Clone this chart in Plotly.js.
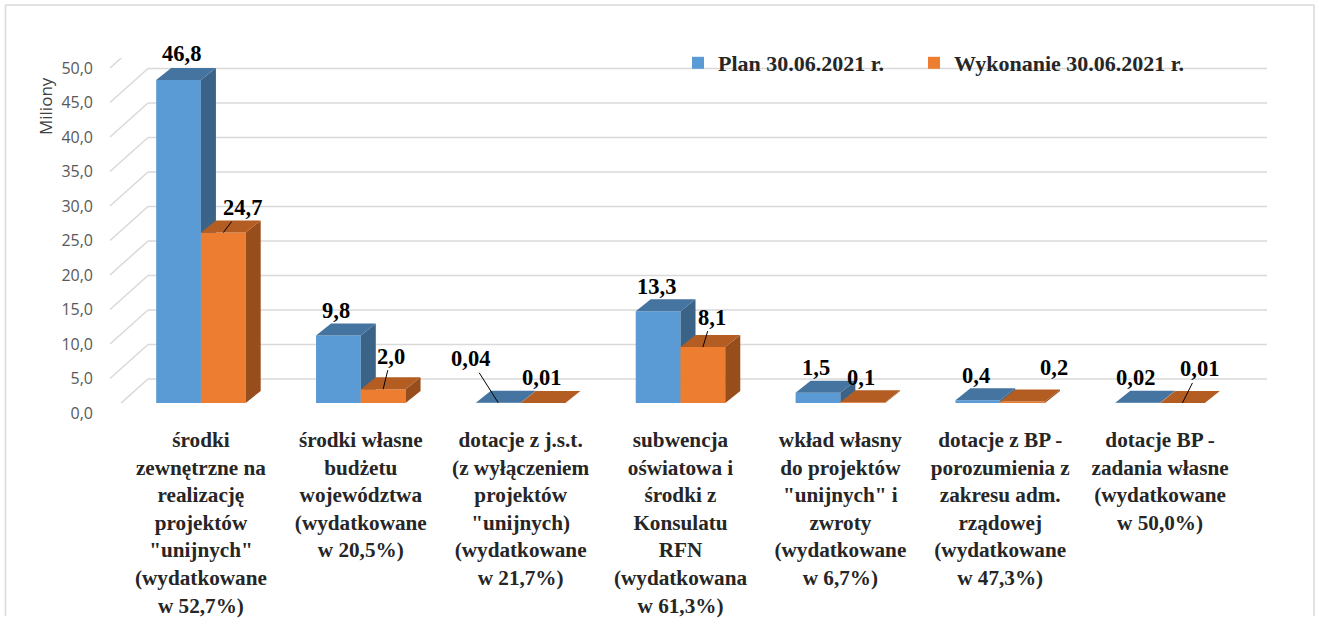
<!DOCTYPE html>
<html><head><meta charset="utf-8">
<script src="https://cdn.plot.ly/plotly-3.0.1.min.js"></script>
<style>html,body{margin:0;padding:0;background:#fff}#chart{width:1319px;height:626px}</style>
</head><body><div id="chart"></div>
<script>
// ---------- data ----------
const categoryLabels = [
  'środki<br>zewnętrzne na<br>realizację<br>projektów<br>"unijnych"<br>(wydatkowane<br>w 52,7%)',
  'środki własne<br>budżetu<br>województwa<br>(wydatkowane<br>w 20,5%)',
  'dotacje z j.s.t.<br>(z wyłączeniem<br>projektów<br>"unijnych)<br>(wydatkowane<br>w 21,7%)',
  'subwencja<br>oświatowa i<br>środki z<br>Konsulatu<br>RFN<br>(wydatkowana<br>w 61,3%)',
  'wkład własny<br>do projektów<br>"unijnych" i<br>zwroty<br>(wydatkowane<br>w 6,7%)',
  'dotacje z BP -<br>porozumienia z<br>zakresu adm.<br>rządowej<br>(wydatkowane<br>w 47,3%)',
  'dotacje BP -<br>zadania własne<br>(wydatkowane<br>w 50,0%)'
];
const planValues = [46.8, 9.8, 0.04, 13.3, 1.5, 0.4, 0.02];
const execValues = [24.7, 2.0, 0.01, 8.1, 0.1, 0.2, 0.01];
const planText = ['46,8', '9,8', '0,04', '13,3', '1,5', '0,4', '0,02'];
const execText = ['24,7', '2,0', '0,01', '8,1', '0,1', '0,2', '0,01'];
const seriesNames = ['Plan 30.06.2021 r.', 'Wykonanie 30.06.2021 r.'];
const yTicks = [0, 5, 10, 15, 20, 25, 30, 35, 40, 45, 50];
const yTitle = 'Miliony';

// ---------- geometry (pixels) ----------
const W = 1319, H = 626;
const FRONT_L = 121, FRONT_R = 1240, FRONT_Y0 = 403, FRONT_YMAX = 58, YMAX = 50;
const LABEL_Y0 = 413, BACK_SHIFT_Y = 24, FRONT_SHIFT_Y = -10;
const WALL_L = 148, WALL_R = 1267, DIAG_X0 = 110, DIAG_DX = 38;
const DEPTH_X = 15, DEPTH_Y = 12;
const BAR_W = 0.28;
const nCat = categoryLabels.length;
const pxPerX = (FRONT_R - FRONT_L) / nCat;
const pxPerY = (FRONT_Y0 - FRONT_YMAX) / YMAX;
const dxU = DEPTH_X / pxPerX, dyU = DEPTH_Y / pxPerY;
const idx = categoryLabels.map((_, i) => i);

const COLORS = {
  plan: {front: '#5B9BD5', top: '#44749F', side: '#3B6387'},
  exec: {front: '#ED7D31', top: '#B45D22', side: '#984D1C'}
};

function faces(values, offset) {
  const top = {x: [], y: []}, side = {x: [], y: []};
  values.forEach((v, i) => {
    const a = i + offset, b = a + BAR_W;
    top.x.push(a, b, b + dxU, a + dxU, a, null);
    top.y.push(v, v, v + dyU, v + dyU, v, null);
    side.x.push(b, b, b + dxU, b + dxU, b, null);
    side.y.push(0, v, v + dyU, dyU, 0, null);
  });
  return {top, side};
}

function seriesTraces(values, offset, col, name, xa, ya, legendId) {
  const f = faces(values, offset);
  const poly = (g, c) => ({type: 'scatter', mode: 'lines', x: g.x, y: g.y, fill: 'toself',
    fillcolor: c, line: {width: 0, color: c}, hoverinfo: 'skip', showlegend: false,
    xaxis: xa, yaxis: ya});
  return [
    {type: 'bar', name: name, x: idx, y: values, width: BAR_W, offset: offset,
     marker: {color: col.front, line: {width: 0}}, xaxis: xa, yaxis: ya, legend: legendId},
    poly(f.side, col.side),
    poly(f.top, col.top)
  ];
}

const data = [
  ...seriesTraces(planValues, -BAR_W, COLORS.plan, seriesNames[0], 'x', 'y', 'legend'),
  ...seriesTraces(execValues, 0, COLORS.exec, seriesNames[1], 'x2', 'y2', 'legend2'),
  {type: 'scatter', mode: 'markers', x: [0], y: [0], marker: {opacity: 0}, hoverinfo: 'skip',
   showlegend: false, xaxis: 'x', yaxis: 'y3'}
];

// ---------- shapes: back wall & side wall gridlines, frame ----------
const GRID = '#D9D9D9';
const shapes = [];
yTicks.forEach(v => {
  shapes.push({type: 'line', layer: 'below', xref: 'paper', x0: WALL_L / W, x1: WALL_R / W,
    yref: 'y', ysizemode: 'pixel', yanchor: v, y0: BACK_SHIFT_Y, y1: BACK_SHIFT_Y,
    line: {color: GRID, width: 1.5}});
  shapes.push({type: 'line', layer: 'below', xref: 'paper', xsizemode: 'pixel',
    xanchor: DIAG_X0 / W, x0: 0, x1: DIAG_DX,
    yref: 'y', ysizemode: 'pixel', yanchor: v, y0: FRONT_SHIFT_Y, y1: BACK_SHIFT_Y,
    line: {color: GRID, width: 1.5}});
});
const FR = {l: 5.5, t: 5, r: 1314, b: 616};
shapes.push({type: 'line', xref: 'paper', yref: 'paper', x0: FR.l / W, x1: FR.l / W,
  y0: (H - FR.b) / H, y1: (H - FR.t) / H, line: {color: GRID, width: 1.5}});
shapes.push({type: 'line', xref: 'paper', yref: 'paper', x0: FR.l / W, x1: FR.r / W,
  y0: (H - FR.t) / H, y1: (H - FR.t) / H, line: {color: GRID, width: 1.5}});
shapes.push({type: 'line', xref: 'paper', yref: 'paper', x0: FR.r / W, x1: FR.r / W,
  y0: (H - FR.b) / H, y1: (H - FR.t) / H, line: {color: GRID, width: 1.5}});

// ---------- data labels ----------
const LABEL_FONT = {family: 'Liberation Serif', size: 22.5, color: '#000000', weight: 'bold'};
const DEFAULT_SHIFT = [-2, -25];
const labelTweaks = {'plan-0': [2.5, -27], 'exec-5': [31, -34]};
const leaderLabels = {'plan-2': [-28, -44], 'exec-0': [19, -25], 'exec-1': [8, -33],
  'exec-3': [9, -30], 'exec-6': [17, -34]};
const annotations = [];
[['plan', planValues, planText, -BAR_W / 2], ['exec', execValues, execText, BAR_W / 2]]
  .forEach(([key, vals, txt, off]) => {
    vals.forEach((v, i) => {
      const id = key + '-' + i;
      const base = {xref: 'x', yref: 'y', x: i + off, y: v, text: txt[i], font: LABEL_FONT};
      if (leaderLabels[id]) {
        const s = leaderLabels[id];
        annotations.push(Object.assign(base, {showarrow: true, ax: s[0], ay: s[1],
          arrowhead: 0, arrowwidth: 1, arrowcolor: '#000', standoff: 0, startstandoff: 0}));
      } else {
        const s = labelTweaks[id] || DEFAULT_SHIFT;
        annotations.push(Object.assign(base, {showarrow: false, xshift: s[0], yshift: -s[1]}));
      }
    });
  });
annotations.push({xref: 'paper', yref: 'paper', x: 46 / W, y: (H - 106) / H, text: yTitle,
  xanchor: 'center', yanchor: 'middle',
  textangle: -90, showarrow: false, font: {family: 'Open Sans', size: 17, color: '#404040'}});

const LEGEND_FONT = {family: 'Liberation Serif', size: 22, color: '#262626', weight: 'bold'};
const legendBase = {orientation: 'h', y: (H - 63) / H, xanchor: 'left', yanchor: 'middle',
  bgcolor: 'rgba(0,0,0,0)', itemwidth: 30, font: LEGEND_FONT};

const layout = {
  width: W, height: H,
  margin: {l: 0, r: 0, t: 0, b: 0},
  paper_bgcolor: '#ffffff', plot_bgcolor: 'rgba(0,0,0,0)',
  separators: ', ',
  showlegend: true,
  legend: Object.assign({x: 678 / W}, legendBase),
  legend2: Object.assign({x: 914 / W}, legendBase),
  xaxis: {domain: [FRONT_L / W, FRONT_R / W], range: [-0.5, nCat - 0.5], anchor: 'y',
    tickmode: 'array', tickvals: idx, ticktext: categoryLabels, ticks: '', showgrid: false,
    zeroline: false, showline: false, ticklabelstandoff: 22, fixedrange: true,
    tickfont: {family: 'Liberation Serif', size: 21.2, color: '#262626', weight: 'bold'}},
  yaxis: {domain: [(H - FRONT_Y0) / H, (H - FRONT_YMAX) / H], range: [0, YMAX], anchor: 'x',
    showgrid: false, zeroline: false, showline: false, showticklabels: false, ticks: '', fixedrange: true},
  xaxis2: {overlaying: 'x', range: [-0.5, nCat - 0.5], anchor: 'y2', visible: false, fixedrange: true},
  yaxis2: {overlaying: 'y', range: [0, YMAX], anchor: 'x2', visible: false, fixedrange: true},
  yaxis3: {domain: [(H - LABEL_Y0) / H, (H - LABEL_Y0 + YMAX * pxPerY) / H], range: [0, YMAX],
    anchor: 'free', position: DIAG_X0 / W, side: 'left', tickmode: 'array', tickvals: yTicks,
    tickformat: '.1f', ticks: '', showgrid: false, zeroline: false, showline: false,
    ticklabelstandoff: 17, fixedrange: true,
    tickfont: {family: 'Open Sans', size: 16, color: '#595959'}},
  shapes: shapes,
  annotations: annotations
};

Plotly.newPlot('chart', data, layout, {displayModeBar: false, staticPlot: true});
</script>
</body></html>
